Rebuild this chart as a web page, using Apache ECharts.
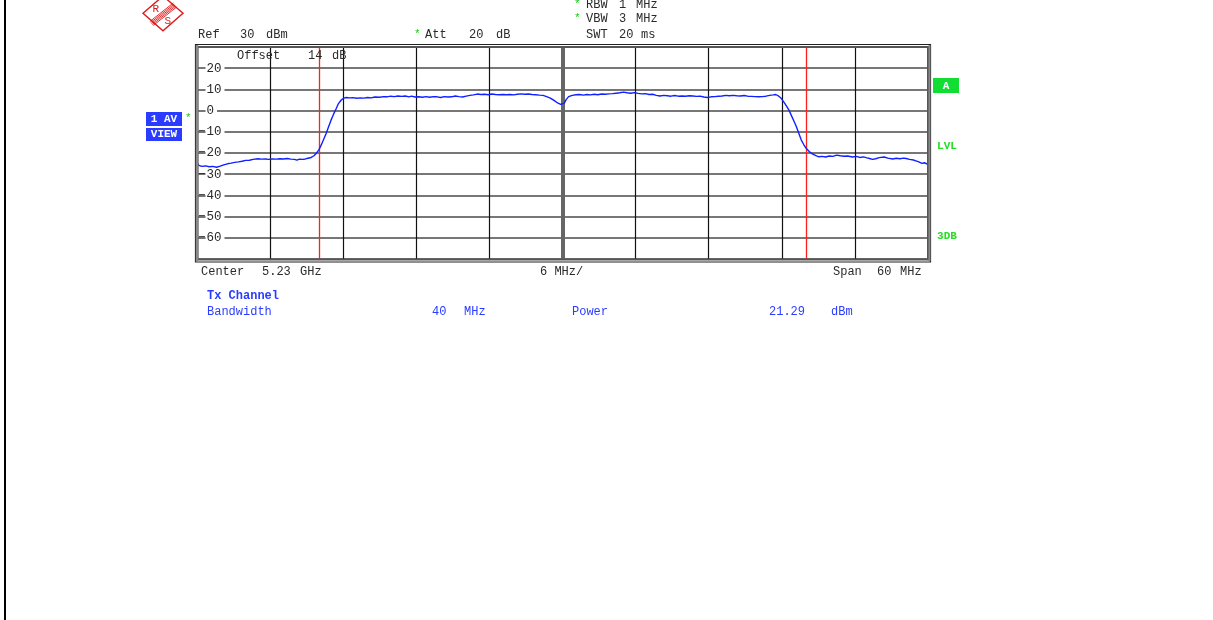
<!DOCTYPE html>
<html>
<head>
<meta charset="utf-8">
<script src="https://cdn.jsdelivr.net/npm/echarts@6/dist/echarts.min.js"></script>
<style>
html,body{margin:0;padding:0;background:#fff;}
#chart{width:1213px;height:620px;}
</style>
</head>
<body>
<div id="chart"></div>
<script>
// Frequency offset from centre (MHz); centre 5.23 GHz, span 60 MHz
var freqOffsetMHz = [
-30.0,-29.85,-29.6,-29.3,-29.0,-28.7,-28.4,-28.1,-27.8,-27.5,-27.2,-26.9,-26.6,-26.3,-26.0,-25.7,-25.4,-25.0,-24.7,-24.4,
-24.1,-23.8,-23.5,-23.2,-22.9,-22.6,-22.3,-22.0,-21.8,-21.6,-21.45,-21.3,-21.1,-20.9,-20.63,-20.4,-20.22,-20.0,-19.81,-19.6,
-19.4,-19.2,-19.0,-18.8,-18.57,-18.4,-18.16,-17.95,-17.75,-17.5,-17.2,-16.9,-16.6,-16.3,-16.0,-15.7,-15.4,-15.0,-14.7,-14.4,
-14.1,-13.8,-13.5,-13.2,-12.9,-12.6,-12.4,-12.1,-11.8,-11.5,-11.2,-10.9,-10.6,-10.3,-10.0,-9.7,-9.4,-9.1,-8.8,-8.5,
-8.2,-7.9,-7.6,-7.3,-7.0,-6.7,-6.4,-6.1,-5.8,-5.5,-5.2,-4.9,-4.6,-4.3,-4.0,-3.7,-3.4,-3.1,-2.8,-2.5,
-2.2,-1.9,-1.6,-1.3,-1.0,-0.7,-0.4,-0.15,0.0,0.15,0.3,0.5,0.8,1.1,1.4,1.7,2.0,2.3,2.6,2.9,
3.2,3.5,3.8,4.1,4.4,4.7,5.0,5.3,5.6,5.9,6.2,6.5,6.8,7.1,7.4,7.7,8.0,8.3,8.6,8.9,
9.2,9.5,9.8,10.1,10.4,10.7,11.0,11.3,11.6,11.9,12.2,12.5,12.8,13.1,13.4,13.7,14.0,14.3,14.6,14.9,
15.2,15.5,15.8,16.1,16.4,16.7,17.0,17.3,17.5,17.75,17.95,18.2,18.4,18.6,18.8,19.0,19.2,19.4,19.6,19.8,
20.0,20.25,20.5,20.8,21.05,21.3,21.6,21.9,22.2,22.5,22.8,23.1,23.4,23.8,24.1,24.4,24.7,25.0,25.2,25.45,
25.7,26.0,26.4,26.7,27.1,27.4,27.7,28.0,28.2,28.5,28.8,29.0,29.2,29.35,29.5,29.7,29.85,30.0
];
// Trace level (dBm)
var levelDbm = [
-24.6,-25.8,-26.3,-26.1,-26.5,-26.3,-26.7,-26.2,-25.6,-25.1,-24.8,-24.4,-24.2,-23.9,-23.5,-23.4,-23.0,-22.7,-22.9,-22.8,
-23.0,-22.8,-22.9,-22.7,-22.8,-22.6,-22.9,-23.0,-23.4,-22.9,-23.6,-23.0,-22.8,-22.5,-22.1,-21.3,-20.2,-18.5,-16.3,-13.5,
-10.8,-7.6,-4.5,-1.8,1.0,3.2,5.0,5.9,6.2,6.0,6.1,5.8,6.0,5.9,6.2,6.0,6.4,6.3,6.6,6.5,
6.8,6.6,6.9,6.7,6.9,6.5,6.8,6.4,6.5,6.3,6.6,6.3,6.6,6.5,6.2,6.6,6.4,6.5,6.9,6.6,
6.4,6.8,7.2,7.4,7.8,7.6,7.7,7.5,7.8,7.6,7.5,7.6,7.5,7.6,7.4,7.7,7.9,7.7,7.8,7.6,
7.5,7.3,7.2,6.6,5.9,4.8,3.6,2.9,2.7,3.5,5.2,6.6,7.2,7.5,7.6,7.3,7.6,7.4,7.7,7.5,
7.8,7.7,7.9,8.0,8.2,8.4,8.7,8.4,8.2,8.5,8.1,7.9,8.0,7.6,7.7,7.2,6.9,7.2,7.0,6.8,
7.1,6.8,6.9,6.8,7.0,6.9,6.7,6.8,6.4,6.2,6.5,6.6,6.8,6.9,7.2,7.0,7.2,7.0,6.9,7.1,
6.8,6.7,6.6,6.5,6.6,6.8,7.2,7.4,7.6,6.8,5.8,3.8,2.0,0.1,-2.5,-5.0,-7.6,-10.8,-13.9,-16.0,
-17.8,-19.3,-20.4,-21.2,-21.8,-21.6,-21.9,-21.4,-21.6,-21.0,-21.3,-21.5,-21.4,-21.9,-21.6,-22.1,-21.8,-22.3,-22.6,-23.0,
-22.7,-22.2,-21.9,-22.4,-22.8,-22.5,-22.7,-22.4,-22.6,-23.0,-23.3,-23.7,-24.1,-23.9,-24.9,-24.6,-25.2,-25.4
];
var channelEdgesMHz = [-20, 20];
var centerMHz = [0];
var yTickLabels = ['20','10','0','−10','−20','−30','−40','−50','−60'];

var MONO = '"Liberation Mono", "DejaVu Sans Mono", monospace';
var chart = echarts.init(document.getElementById('chart'), null, {renderer: 'canvas'});

var traceData = freqOffsetMHz.map(function (f, i) { return [f, levelDbm[i]]; });

function txt(x, y, s, opt) {
  opt = opt || {};
  return {
    type: 'text', x: x, y: y, z: 100, silent: true,
    style: {
      text: s,
      font: (opt.weight || 'normal') + ' ' + (opt.size || 12) + 'px ' + MONO,
      fill: opt.color || '#2a2a2a',
      align: opt.align || 'left',
      verticalAlign: 'middle',
      textAlign: opt.align || 'left',
      textVerticalAlign: 'middle'
    }
  };
}
function box(x, y, w, h, color) {
  return {type: 'rect', z: 90, silent: true, shape: {x: x, y: y, width: w, height: h}, style: {fill: color}};
}

var blue = '#2a3cff';
var green = '#22dd22';
var star = '#11cc11';

// R&S logo stripes
var stripes = [];
[-2.6, -1.3, 0, 1.3, 2.6].forEach(function (o) {
  stripes.push({type: 'line', z: 100, silent: true,
    shape: {x1: 175 + o * 0.62, y1: 5 + o * 0.79, x2: 151.5 + o * 0.62, y2: 23.5 + o * 0.79},
    style: {stroke: '#dd1a1a', lineWidth: 0.9}});
});

var graphics = [
  // left page line
  {type: 'line', z: 100, silent: true, shape: {x1: 5, y1: 0, x2: 5, y2: 620}, style: {stroke: '#000', lineWidth: 2}},
  // logo
  {type: 'polygon', z: 100, silent: true, shape: {points: [[163, -4], [183, 13.3], [163, 30.7], [143, 13.3]]},
    style: {fill: 'none', stroke: '#dd1a1a', lineWidth: 1.4}},
  txt(152.5, 9.5, 'R', {color: '#dd1a1a', size: 11}),
  txt(164.5, 21, 'S', {color: '#dd1a1a', size: 11}),
  // header
  txt(198, 35, 'Ref', {}),
  txt(240, 35, '30', {}),
  txt(266, 35, 'dBm', {}),
  txt(414, 34, '*', {color: star, size: 11}),
  txt(425, 35, 'Att', {}),
  txt(469, 35, '20', {}),
  txt(496, 35, 'dB', {}),
  txt(574, 4, '*', {color: star, size: 11}),
  txt(586, 5, 'RBW', {}),
  txt(619, 5, '1', {}),
  txt(636, 5, 'MHz', {}),
  txt(574, 18, '*', {color: star, size: 11}),
  txt(586, 19, 'VBW', {}),
  txt(619, 19, '3', {}),
  txt(636, 19, 'MHz', {}),
  txt(586, 34.5, 'SWT', {}),
  txt(619, 34.5, '20', {}),
  txt(641, 34.5, 'ms', {}),
  // offset text inside plot
  txt(237, 56, 'Offset', {}),
  txt(308, 56, '14', {}),
  txt(332, 56, 'dB', {}),
  // left boxes
  box(146, 112, 36, 14, blue),
  txt(164, 119.5, '1 AV', {color: '#fff', weight: 'bold', size: 11, align: 'center'}),
  box(146, 128, 36, 13, blue),
  txt(164, 134.5, 'VIEW', {color: '#fff', weight: 'bold', size: 11, align: 'center'}),
  txt(185, 118, '*', {color: star, size: 11}),
  // right indicators
  box(933, 78, 26, 15, '#11dd33'),
  txt(946, 86, 'A', {color: '#fff', weight: 'bold', size: 11, align: 'center'}),
  txt(947, 146, 'LVL', {color: green, weight: 'bold', size: 11, align: 'center'}),
  txt(947, 236, '3DB', {color: green, weight: 'bold', size: 11, align: 'center'}),
  // footer
  txt(201, 271.5, 'Center', {}),
  txt(262, 271.5, '5.23', {}),
  txt(300, 271.5, 'GHz', {}),
  txt(540, 271.5, '6 MHz/', {}),
  txt(833, 271.5, 'Span', {}),
  txt(877, 271.5, '60', {}),
  txt(900, 271.5, 'MHz', {}),
  txt(207, 296, 'Tx Channel', {color: blue, weight: 'bold'}),
  txt(207, 312, 'Bandwidth', {color: blue}),
  txt(432, 312, '40', {color: blue}),
  txt(464, 312, 'MHz', {color: blue}),
  txt(572, 312, 'Power', {color: blue}),
  txt(769, 312, '21.29', {color: blue}),
  txt(831, 312, 'dBm', {color: blue}),
  // frame
  {type: 'rect', z: 95, silent: true, shape: {x: 195.5, y: 44.5, width: 735, height: 217.5},
    style: {fill: 'none', stroke: '#222', lineWidth: 1.2}},
  {type: 'rect', z: 95, silent: true, shape: {x: 197.5, y: 47, width: 730.5, height: 212.5},
    style: {fill: 'none', stroke: '#555', lineWidth: 2}},
  {type: 'line', z: 95, silent: true, shape: {x1: 197, y1: 45, x2: 197, y2: 261}, style: {stroke: '#888', lineWidth: 2.5}},
  {type: 'line', z: 95, silent: true, shape: {x1: 929.5, y1: 45, x2: 929.5, y2: 261}, style: {stroke: '#888', lineWidth: 2}}
].concat(stripes);

var option = {
  animation: false,
  backgroundColor: '#fff',
  grid: {left: 197, right: 285, top: 47, bottom: 361, show: false},
  xAxis: {
    type: 'value', min: -30, max: 30, interval: 6,
    axisLine: {show: false}, axisTick: {show: false}, axisLabel: {show: false},
    splitLine: {show: true, lineStyle: {color: '#111', width: 1.2}}
  },
  yAxis: {
    type: 'value', min: -70, max: 30, interval: 10,
    axisLine: {show: false}, axisTick: {show: false},
    splitLine: {show: true, lineStyle: {color: '#4a4a4a', width: 1.6}},
    axisLabel: {
      inside: true, margin: 1,
      formatter: function (v) {
        var idx = yTickLabels.indexOf(v < 0 ? '−' + Math.abs(v) : String(v));
        if (idx < 0) return '';
        var s = yTickLabels[idx];
        if (s.charAt(0) === '−') return '{m|−}{d|' + s.slice(1) + '}';
        return '{m| }{d|' + s + '}';
      },
      rich: {
        m: {fontFamily: MONO, fontSize: 12.5, color: '#2a2a2a'},
        d: {fontFamily: MONO, fontSize: 12.5, color: '#2a2a2a', backgroundColor: '#fff', padding: [0, 3, 0, 1]}
      }
    }
  },
  series: [{
    type: 'line',
    data: traceData,
    showSymbol: false,
    symbol: 'none',
    smooth: false,
    z: 10,
    lineStyle: {color: '#1020ff', width: 1.4},
    markLine: {
      silent: true, symbol: 'none', label: {show: false},
      data: [
        {xAxis: centerMHz[0], lineStyle: {color: '#666', width: 4, type: 'solid'}},
        {xAxis: channelEdgesMHz[0], lineStyle: {color: '#ff2020', width: 1.3, type: 'solid'}},
        {xAxis: channelEdgesMHz[1], lineStyle: {color: '#ff2020', width: 1.3, type: 'solid'}}
      ]
    }
  }],
  graphic: graphics
};
chart.setOption(option);
</script>
</body>
</html>
